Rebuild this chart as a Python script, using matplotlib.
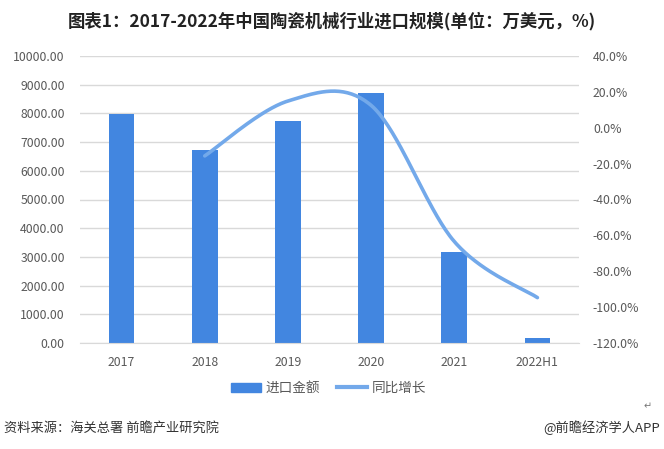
import numpy as np
import matplotlib.pyplot as plt
from matplotlib.lines import Line2D
from matplotlib.patches import Patch

plt.rcParams['font.family'] = ['Noto Sans CJK SC', 'DejaVu Sans']

# data
years = ['2017', '2018', '2019', '2020', '2021', '2022H1']
import_value = [7980, 6730, 7730, 8700, 3180, 170]
growth = [None, -15.7, 14.9, 12.5, -63.4, -94.7]

bar_color = '#4286E0'
line_color = '#73A9EA'
text_color = '#595959'

fig = plt.figure(figsize=(6.64, 4.49), dpi=100)
ax = fig.add_axes([80 / 664, 1 - 343 / 449, 499 / 664, 287 / 449])
ax2 = ax.twinx()

x = np.arange(len(years))
ax.bar(x, import_value, width=0.31, color=bar_color, zorder=2)
ax.set_xlim(-0.5, len(years) - 0.5)
ax.set_ylim(0, 10000)
ax.set_yticks(np.arange(0, 10001, 1000))
ax.set_yticklabels([f'{v:.2f}' for v in np.arange(0, 10001, 1000)])
ax.set_xticks(x)
ax.set_xticklabels(years)
ax.grid(axis='y', color='#D9D9D9', linewidth=1, zorder=0)
ax.set_axisbelow(True)

# smoothed line (Bezier through the yearly points, like Excel's smooth line)
px = np.array([i for i, g in enumerate(growth) if g is not None], dtype=float)
py = np.array([g for g in growth if g is not None], dtype=float)
P = np.column_stack([px, py])
P = np.vstack([P[0], P, P[-1]])
sx, sy = [], []
t = np.linspace(0, 1, 40)
for i in range(1, len(P) - 2):
    p0, p1, p2, p3 = P[i - 1], P[i], P[i + 1], P[i + 2]
    c1 = p1 + (p2 - p0) / 6
    c2 = p2 - (p3 - p1) / 6
    seg = ((1 - t) ** 3)[:, None] * p1 + (3 * (1 - t) ** 2 * t)[:, None] * c1 \
        + (3 * (1 - t) * t ** 2)[:, None] * c2 + (t ** 3)[:, None] * p2
    sx.extend(seg[:, 0])
    sy.extend(seg[:, 1])
ax2.plot(sx, sy, color=line_color, linewidth=2.6, solid_capstyle='round', zorder=3)
ax2.set_ylim(-120, 40)
ax2.set_yticks(np.arange(-120, 41, 20))
ax2.set_yticklabels([f'{v:.1f}%' for v in np.arange(-120, 41, 20)])

for a in (ax, ax2):
    for s in a.spines.values():
        s.set_visible(False)
    a.tick_params(length=0, labelsize=8.8, colors=text_color)
ax.spines['bottom'].set_visible(True)
ax.spines['bottom'].set_color('#D9D9D9')
ax.tick_params(axis='y', pad=11)
ax.tick_params(axis='x', pad=9)
ax2.tick_params(axis='y', pad=10)

fig.text(0.5, 0.953, '图表1：2017-2022年中国陶瓷机械行业进口规模(单位：万美元，%)',
         ha='center', va='center', fontsize=12.5, fontweight='bold', color='#222222')

handles = [Patch(color=bar_color), Line2D([0], [0], color=line_color, linewidth=3)]
fig.legend(handles, ['进口金额', '同比增长'], loc='center', bbox_to_anchor=(0.495, 1 - 388 / 449),
           ncol=2, frameon=False, fontsize=9.8, handlelength=2.2, handleheight=0.6,
           columnspacing=1.2, handletextpad=0.35, labelcolor=text_color)

fig.text(0.006, 1 - 428 / 449, '资料来源：海关总署 前瞻产业研究院', ha='left', va='center',
         fontsize=9.5, color='#333333')
fig.text(0.994, 1 - 428 / 449, '@前瞻经济学人APP', ha='right', va='center',
         fontsize=9.5, color='#333333')
fig.text(0.975, 1 - 406 / 449, '↵', ha='center', va='center', fontsize=7,
         color='#777777', family='DejaVu Sans')

fig.savefig('out.png', dpi=100)
